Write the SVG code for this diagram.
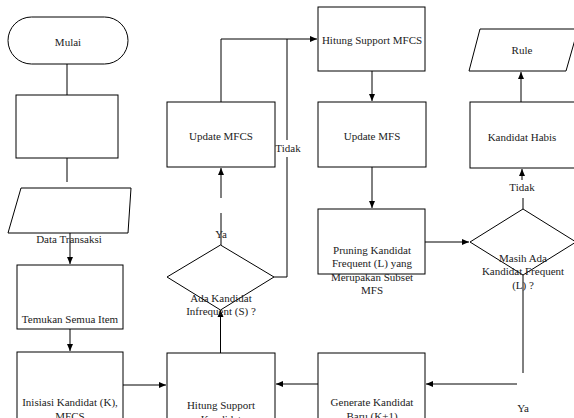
<svg xmlns="http://www.w3.org/2000/svg" width="574" height="418" viewBox="0 0 574 418">
<style>
.s{fill:#fff;stroke:#000;stroke-width:1}
.c{fill:none;stroke:#000;stroke-width:1}
text{font-family:'Liberation Serif','Times New Roman','DejaVu Serif',serif;font-size:11px;fill:#222;text-anchor:middle}
</style>
<defs>
<marker id="a" markerWidth="8" markerHeight="8" refX="7" refY="4" orient="auto" markerUnits="userSpaceOnUse">
<path d="M0,1 L7,4 L0,7 Z" fill="#000"/>
</marker>
</defs>
<rect width="574" height="418" fill="#fff"/>
<g id="connectors">
<path class="c" d="M67,64 V95"/>
<path class="c" d="M67,158 V182"/>
<path class="c" d="M70,233 V264" marker-end="url(#a)"/>
<path class="c" d="M70,329 V351" marker-end="url(#a)"/>
<path class="c" d="M123,385 H166" marker-end="url(#a)"/>
<path class="c" d="M220.5,353 V310" marker-end="url(#a)"/>
<path class="c" d="M221,213 V245"/>
<path class="c" d="M221,198 V168" marker-end="url(#a)"/>
<path class="c" d="M274,277 H287 V157"/>
<path class="c" d="M287,140 V39"/>
<path class="c" d="M221,102 V39 H317" marker-end="url(#a)"/>
<path class="c" d="M372,71 V101" marker-end="url(#a)"/>
<path class="c" d="M372,167 V208" marker-end="url(#a)"/>
<path class="c" d="M425,242 H469" marker-end="url(#a)"/>
<path class="c" d="M523,198 V209"/>
<path class="c" d="M522,180 V169" marker-end="url(#a)"/>
<path class="c" d="M521,102 V72" marker-end="url(#a)"/>
<path class="c" d="M523,275 V373"/>
<path class="c" d="M517,384 H426" marker-end="url(#a)"/>
<path class="c" d="M318,384 H276" marker-end="url(#a)"/>
</g>
<g id="mulai">
<rect class="s" x="8" y="17" width="120" height="47" rx="23.5"/>
<text x="68" y="46" font-family="Liberation Serif, serif">Mulai</text>
</g>
<g id="box1">
<rect class="s" x="16" y="95" width="102" height="63"/>
</g>
<g id="data">
<path class="s" d="M21,188 H131 L128,233 H8 Z"/>
<text x="69" y="243">Data Transaksi</text>
</g>
<g id="temukan">
<rect class="s" x="17" y="265" width="106" height="64"/>
<text x="70" y="323">Temukan Semua Item</text>
</g>
<g id="inisiasi">
<rect class="s" x="17" y="352" width="106" height="70"/>
<text x="70" y="406">Inisiasi Kandidat (K),</text>
<text x="70" y="420">MFCS</text>
</g>
<g id="hitungkandidat">
<rect class="s" x="167" y="353" width="108" height="70"/>
<text x="221" y="409">Hitung Support</text>
<text x="221" y="423">Kandidat</text>
</g>
<g id="ada">
<path class="s" d="M220.5,245 L274,277 L220.5,310 L167,277 Z"/>
<text x="221" y="302">Ada Kandidat</text>
<text x="221" y="315">Infrequent (S) ?</text>
<text x="221" y="238">Ya</text>
</g>
<g id="updatemfcs">
<rect class="s" x="167" y="102" width="108" height="65"/>
<text x="221" y="140">Update MFCS</text>
<text x="288" y="152">Tidak</text>
</g>
<g id="hitungmfcs">
<rect class="s" x="318" y="7" width="107" height="64"/>
<text x="372" y="44">Hitung Support MFCS</text>
</g>
<g id="updatemfs">
<rect class="s" x="318" y="102" width="108" height="65"/>
<text x="372" y="140">Update MFS</text>
</g>
<g id="pruning">
<rect class="s" x="318" y="209" width="107" height="65"/>
<text x="372" y="254">Pruning Kandidat</text>
<text x="372" y="267">Frequent (L)  yang</text>
<text x="372" y="281">Merupakan Subset</text>
<text x="372" y="294">MFS</text>
</g>
<g id="generate">
<rect class="s" x="318" y="353" width="107" height="70"/>
<text x="372" y="406">Generate Kandidat</text>
<text x="372" y="420">Baru (K+1)</text>
</g>
<g id="masih">
<path class="s" d="M523,209 L576,242 L523,275 L470,242 Z"/>
<text x="523" y="262">Masih Ada</text>
<text x="523" y="275">Kandidat Frequent</text>
<text x="523" y="289">(L) ?</text>
<text x="523" y="412">Ya</text>
</g>
<g id="habis">
<rect class="s" x="470" y="102" width="106" height="66"/>
<text x="522" y="141">Kandidat Habis</text>
<text x="522" y="191">Tidak</text>
</g>
<g id="rule">
<path class="s" d="M480,29 H578 L566,71 H469 Z"/>
<text x="522" y="54">Rule</text>
</g>
</svg>
